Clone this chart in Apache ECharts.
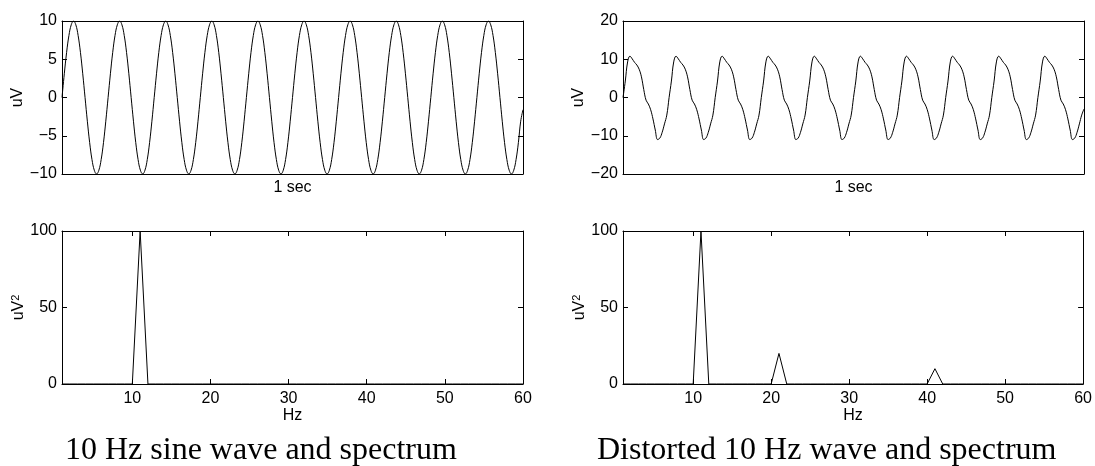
<!DOCTYPE html>
<html><head><meta charset="utf-8">
<script src="https://cdn.jsdelivr.net/npm/echarts@6/dist/echarts.min.js"></script>
<style>html,body{margin:0;padding:0;background:#fff}#c{width:1095px;height:466px}</style>
</head><body><div id="c"></div>
<script>
// 10 Hz sine wave, 20 readings per cycle over 1 sec (200 steps across the axis)
const sineWave = [
  0, 3.1, 5.9, 8.1, 9.5, 10, 9.5, 8.1, 5.9, 3.1, 0, -3.1, -5.9, -8.1, -9.5, -10, -9.5, -8.1, -5.9, -3.1,
  0, 3.1, 5.9, 8.1, 9.5, 10, 9.5, 8.1, 5.9, 3.1, 0, -3.1, -5.9, -8.1, -9.5, -10, -9.5, -8.1, -5.9, -3.1,
  0, 3.1, 5.9, 8.1, 9.5, 10, 9.5, 8.1, 5.9, 3.1, 0, -3.1, -5.9, -8.1, -9.5, -10, -9.5, -8.1, -5.9, -3.1,
  0, 3.1, 5.9, 8.1, 9.5, 10, 9.5, 8.1, 5.9, 3.1, 0, -3.1, -5.9, -8.1, -9.5, -10, -9.5, -8.1, -5.9, -3.1,
  0, 3.1, 5.9, 8.1, 9.5, 10, 9.5, 8.1, 5.9, 3.1, 0, -3.1, -5.9, -8.1, -9.5, -10, -9.5, -8.1, -5.9, -3.1,
  0, 3.1, 5.9, 8.1, 9.5, 10, 9.5, 8.1, 5.9, 3.1, 0, -3.1, -5.9, -8.1, -9.5, -10, -9.5, -8.1, -5.9, -3.1,
  0, 3.1, 5.9, 8.1, 9.5, 10, 9.5, 8.1, 5.9, 3.1, 0, -3.1, -5.9, -8.1, -9.5, -10, -9.5, -8.1, -5.9, -3.1,
  0, 3.1, 5.9, 8.1, 9.5, 10, 9.5, 8.1, 5.9, 3.1, 0, -3.1, -5.9, -8.1, -9.5, -10, -9.5, -8.1, -5.9, -3.1,
  0, 3.1, 5.9, 8.1, 9.5, 10, 9.5, 8.1, 5.9, 3.1, 0, -3.1, -5.9, -8.1, -9.5, -10, -9.5, -8.1, -5.9, -3.1,
  0, 3.1, 5.9, 8.1, 9.5, 10, 9.5, 8.1, 5.9, 3.1, 0, -3.1, -5.9, -8.1, -9.5, -10, -9.5, -8.1, -5.9, -3.1,
  -1.6
];
// distorted 10 Hz wave, same sampling
const distortedWave = [
  0, 4.3, 9.3, 10.8, 10.1, 9.2, 8.5, 7.4, 5.4, 2.1, -0.7, -1.7, -3.2, -5.6, -8.5, -11.0, -10.6, -9.1, -6.9, -4.6,
  0, 4.3, 9.3, 10.8, 10.1, 9.2, 8.5, 7.4, 5.4, 2.1, -0.7, -1.7, -3.2, -5.6, -8.5, -11.0, -10.6, -9.1, -6.9, -4.6,
  0, 4.3, 9.3, 10.8, 10.1, 9.2, 8.5, 7.4, 5.4, 2.1, -0.7, -1.7, -3.2, -5.6, -8.5, -11.0, -10.6, -9.1, -6.9, -4.6,
  0, 4.3, 9.3, 10.8, 10.1, 9.2, 8.5, 7.4, 5.4, 2.1, -0.7, -1.7, -3.2, -5.6, -8.5, -11.0, -10.6, -9.1, -6.9, -4.6,
  0, 4.3, 9.3, 10.8, 10.1, 9.2, 8.5, 7.4, 5.4, 2.1, -0.7, -1.7, -3.2, -5.6, -8.5, -11.0, -10.6, -9.1, -6.9, -4.6,
  0, 4.3, 9.3, 10.8, 10.1, 9.2, 8.5, 7.4, 5.4, 2.1, -0.7, -1.7, -3.2, -5.6, -8.5, -11.0, -10.6, -9.1, -6.9, -4.6,
  0, 4.3, 9.3, 10.8, 10.1, 9.2, 8.5, 7.4, 5.4, 2.1, -0.7, -1.7, -3.2, -5.6, -8.5, -11.0, -10.6, -9.1, -6.9, -4.6,
  0, 4.3, 9.3, 10.8, 10.1, 9.2, 8.5, 7.4, 5.4, 2.1, -0.7, -1.7, -3.2, -5.6, -8.5, -11.0, -10.6, -9.1, -6.9, -4.6,
  0, 4.3, 9.3, 10.8, 10.1, 9.2, 8.5, 7.4, 5.4, 2.1, -0.7, -1.7, -3.2, -5.6, -8.5, -11.0, -10.6, -9.1, -6.9, -4.6,
  0, 4.3, 9.3, 10.8, 10.1, 9.2, 8.5, 7.4, 5.4, 2.1, -0.7, -1.7, -3.2, -5.6, -8.5, -11.0, -10.6, -9.1, -6.9, -4.6,
  -3.0
];
// spectrum bins 1..60
const freqBins = [1,2,3,4,5,6,7,8,9,10,11,12,13,14,15,16,17,18,19,20,21,22,23,24,25,26,27,28,29,30,
  31,32,33,34,35,36,37,38,39,40,41,42,43,44,45,46,47,48,49,50,51,52,53,54,55,56,57,58,59,60];
const sineSpectrum = [0,0,0,0,0,0,0,0,0,0,100,0,0,0,0,0,0,0,0,0,0,0,0,0,0,0,0,0,0,0,
  0,0,0,0,0,0,0,0,0,0,0,0,0,0,0,0,0,0,0,0,0,0,0,0,0,0,0,0,0,0];
const distortedSpectrum = [0,0,0,0,0,0,0,0,0,0,100,0,0,0,0,0,0,0,0,0,20,0,0,0,0,0,0,0,0,0,
  0,0,0,0,0,0,0,0,0,0,10,0,0,0,0,0,0,0,0,0,0,0,0,0,0,0,0,0,0,0];
const hzTicks = [10, 20, 30, 40, 50, 60];
const titles = ['10 Hz sine wave and spectrum', 'Distorted 10 Hz wave and spectrum'];

const FONT = '"Liberation Sans", Arial, Helvetica, sans-serif';
const black = '#000';
const axisLine = {show: true, onZero: false, lineStyle: {color: black, width: 1}};
const tick = {show: true, inside: true, length: 5, lineStyle: {color: black, width: 1}};
const minusFmt = v => String(v).replace('-', '\u2212');
const label = {color: black, fontFamily: FONT, fontSize: 16, margin: 5, formatter: minusFmt};

const grids = [
  {left: 62, top: 21, width: 461, height: 153},
  {left: 623, top: 21, width: 461, height: 153},
  {left: 62, top: 231, width: 461, height: 153},
  {left: 623, top: 231, width: 461, height: 153}
];

const xAxes = [], yAxes = [];
// wave plots
[0, 1].forEach(g => {
  xAxes.push({gridIndex: g, type: 'value', min: 0, max: 200, position: 'bottom',
    axisLine, axisTick: {show: false}, axisLabel: {show: false}, splitLine: {show: false},
    name: '1 sec', nameLocation: 'middle', nameGap: 6,
    nameTextStyle: {color: black, fontFamily: FONT, fontSize: 16, verticalAlign: 'top'}});
  xAxes.push({gridIndex: g, type: 'value', min: 0, max: 200, position: 'top',
    axisLine, axisTick: {show: false}, axisLabel: {show: false}, splitLine: {show: false}});
});
// spectrum plots
[2, 3].forEach(g => {
  xAxes.push({gridIndex: g, type: 'value', min: 1, max: 60, position: 'bottom',
    axisLine, axisTick: Object.assign({}, tick, {customValues: hzTicks}),
    axisLabel: Object.assign({}, label, {customValues: hzTicks, margin: 7}), splitLine: {show: false},
    name: 'Hz', nameLocation: 'middle', nameGap: 23,
    nameTextStyle: {color: black, fontFamily: FONT, fontSize: 16, verticalAlign: 'top'}});
  xAxes.push({gridIndex: g, type: 'value', min: 1, max: 60, position: 'top',
    axisLine, axisTick: Object.assign({}, tick, {customValues: hzTicks}),
    axisLabel: {show: false}, splitLine: {show: false}});
});

const yRanges = [
  {min: -10, max: 10, interval: 5, name: 'uV'},
  {min: -20, max: 20, interval: 10, name: 'uV'},
  {min: 0, max: 100, interval: 50, name: '{a|uV}{b|2}'},
  {min: 0, max: 100, interval: 50, name: '{a|uV}{b|2}'}
];
yRanges.forEach((r, g) => {
  yAxes.push({gridIndex: g, type: 'value', min: r.min, max: r.max, interval: r.interval, position: 'left',
    axisLine, axisTick: tick, axisLabel: label, splitLine: {show: false},
    name: r.name, nameLocation: 'middle', nameGap: 34, nameRotate: 90,
    nameTextStyle: {color: black, fontFamily: FONT, fontSize: 16,
      rich: {a: {fontFamily: FONT, fontSize: 16, color: black, lineHeight: 16},
             b: {fontFamily: FONT, fontSize: 11, color: black, verticalAlign: 'top', lineHeight: 11}}}});
  yAxes.push({gridIndex: g, type: 'value', min: r.min, max: r.max, interval: r.interval, position: 'right',
    axisLine, axisTick: tick, axisLabel: {show: false}, splitLine: {show: false}});
});

const lineStyle = {color: black, width: 1};
const series = [
  {type: 'line', xAxisIndex: 0, yAxisIndex: 0, data: sineWave.map((v, i) => [i, v]),
   showSymbol: false, smooth: 0.4, lineStyle, clip: true, silent: true},
  {type: 'line', xAxisIndex: 2, yAxisIndex: 2, data: distortedWave.map((v, i) => [i, v]),
   showSymbol: false, smooth: 0.4, lineStyle, clip: true, silent: true},
  {type: 'line', xAxisIndex: 4, yAxisIndex: 4, data: sineSpectrum.map((v, i) => [freqBins[i], v]),
   showSymbol: false, lineStyle, clip: true, silent: true},
  {type: 'line', xAxisIndex: 6, yAxisIndex: 6, data: distortedSpectrum.map((v, i) => [freqBins[i], v]),
   showSymbol: false, lineStyle, clip: true, silent: true}
];

const chart = echarts.init(document.getElementById('c'), null, {renderer: 'canvas'});
chart.setOption({
  animation: false,
  backgroundColor: '#fff',
  grid: grids,
  xAxis: xAxes,
  yAxis: yAxes,
  series,
  graphic: [
    {type: 'text', left: 65, top: 435, silent: true,
     style: {text: titles[0], font: '32px "Liberation Serif", "Times New Roman", serif', fill: black}},
    {type: 'text', left: 597, top: 435, silent: true,
     style: {text: titles[1], font: '32px "Liberation Serif", "Times New Roman", serif', fill: black}}
  ]
});
</script></body></html>
